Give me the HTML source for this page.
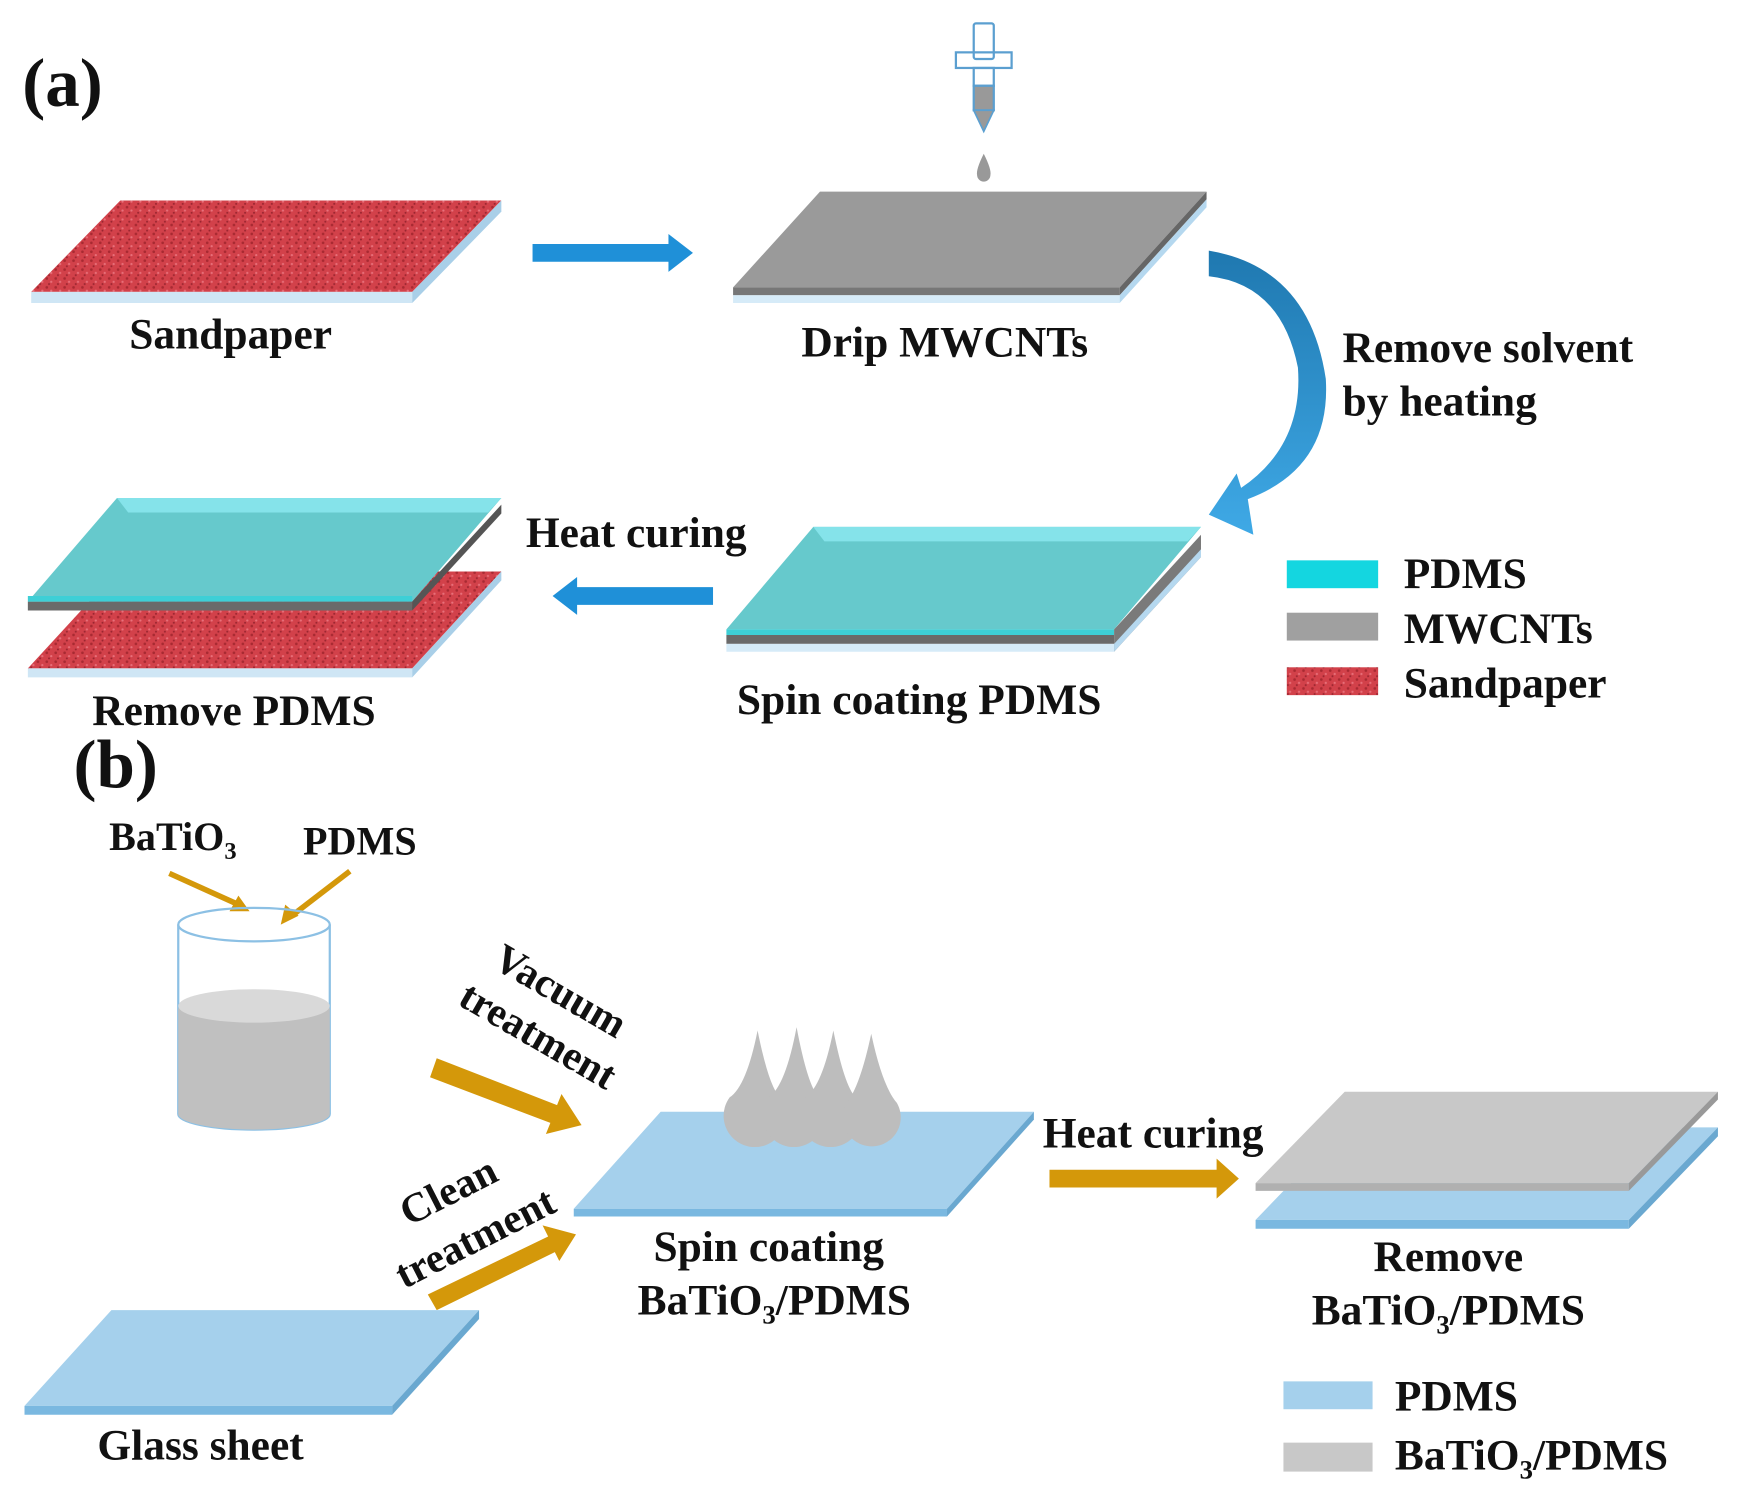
<!DOCTYPE html>
<html><head><meta charset="utf-8"><style>
html,body{margin:0;padding:0;background:#fff;}
svg{display:block;}
text{font-family:"Liberation Serif",serif;font-weight:bold;fill:#111;}
</style></head><body>
<svg width="1738" height="1495" viewBox="0 0 1560 1342" preserveAspectRatio="none" xmlns="http://www.w3.org/2000/svg">
<defs>
<pattern id="sand" width="8" height="8" patternUnits="userSpaceOnUse">
<rect width="8" height="8" fill="#d2414a"/>
<circle cx="2" cy="2" r="1.2" fill="#a82a32"/><circle cx="6" cy="5" r="1" fill="#e8707a"/><circle cx="4" cy="7" r="0.9" fill="#9a2530"/>
</pattern>
<linearGradient id="cg" x1="0" y1="0" x2="0" y2="1"><stop offset="0" stop-color="#1f78b0"/><stop offset="1" stop-color="#3fa9e6"/></linearGradient>
</defs>

<text x="20" y="95" font-size="62">(a)</text>

<!-- Sandpaper -->
<polygon points="28,262 370,262 450,180 108,180" fill="url(#sand)"/>
<polygon points="28,262 370,262 370,272 28,272" fill="#cfe6f5"/>
<polygon points="370,262 450,180 450,190 370,272" fill="#a9cfe8"/>
<text x="207" y="313" font-size="39" text-anchor="middle">Sandpaper</text>

<!-- arrow 1 -->
<polygon points="478,219 600,219 600,210 622,227 600,244 600,235 478,235" fill="#1f90d8"/>

<!-- dropper -->
<g fill="none" stroke="#5b9fd0" stroke-width="2">
<rect x="874" y="21" width="18" height="32" rx="2"/>
<rect x="858" y="47" width="50" height="14"/>
<rect x="874" y="61" width="18" height="16"/>
</g>
<rect x="874" y="77" width="18" height="22" fill="#999" stroke="#5b9fd0" stroke-width="2"/>
<polygon points="874,99 892,99 883,118" fill="#999" stroke="#5b9fd0" stroke-width="1.5"/>
<path d="M883,138 Q876,152 877,157 A6,6 0 0 0 889,157 Q890,152 883,138Z" fill="#999"/>

<!-- gray slab -->
<polygon points="658,258 1005,258 1083,172 736,172" fill="#9a9a9a"/>
<polygon points="658,258 1005,258 1005,265 658,265" fill="#777"/>
<polygon points="1005,258 1083,172 1083,179 1005,265" fill="#666"/>
<polygon points="658,265 1005,265 1005,272 658,272" fill="#d6ebf8"/>
<polygon points="1005,265 1083,179 1083,186 1005,272" fill="#b5d8ef"/>
<text x="848" y="320" font-size="39" text-anchor="middle">Drip MWCNTs</text>

<!-- curved arrow -->
<path d="M1085,225 Q1175,240 1190,340 Q1195,420 1120,448 L1125,480 L1085,462 L1110,425 L1114,438 Q1170,400 1165,330 Q1150,255 1085,248Z" fill="url(#cg)"/>
<text x="1205" y="325" font-size="39">Remove solvent</text>
<text x="1205" y="373" font-size="39">by heating</text>

<!-- spin coating PDMS -->
<polygon points="652,565 1000,565 1078,473 730,473" fill="#66c9cc"/>
<polygon points="730,473 1078,473 1066,486 740,486" fill="#85e3ea"/>
<polygon points="652,565 1000,565 1000,570 652,570" fill="#3ecfd6"/>
<polygon points="652,570 1000,570 1000,578 652,578" fill="#6a6a6a"/>
<polygon points="652,578 1000,578 1000,585 652,585" fill="#d6ebf8"/>
<polygon points="1000,565 1078,480 1078,500 1000,585" fill="#7a7a7a"/>
<polygon points="1000,578 1078,493 1078,500 1000,585" fill="#b5d8ef"/>
<text x="825" y="641" font-size="39" text-anchor="middle">Spin coating PDMS</text>

<!-- left arrow -->
<polygon points="640,527 518,527 518,518 496,535 518,552 518,543 640,543" fill="#1f90d8"/>
<text x="472" y="491" font-size="39">Heat curing</text>

<!-- remove PDMS -->
<polygon points="25,600 370,600 450,513 105,513" fill="url(#sand)"/>
<polygon points="25,600 370,600 370,608 25,608" fill="#cfe6f5"/>
<polygon points="370,600 450,513 450,521 370,608" fill="#a9cfe8"/>
<polygon points="25,540 370,540 450,447 105,447" fill="#66c9cc"/>
<polygon points="105,447 450,447 438,460 115,460" fill="#85e3ea"/>
<polygon points="25,540 370,540 370,548 25,548" fill="#6a6a6a"/>
<polygon points="370,540 450,453 450,461 370,548" fill="#555"/>
<polygon points="25,535 370,535 370,540 25,540" fill="#3ecfd6"/>
<text x="210" y="651" font-size="39" text-anchor="middle">Remove PDMS</text>

<!-- legend a -->
<rect x="1155" y="503" width="82" height="25" fill="#14d6e0"/>
<rect x="1155" y="550" width="82" height="25" fill="#a0a0a0"/>
<rect x="1155" y="599" width="82" height="25" fill="url(#sand)"/>
<text x="1260" y="528" font-size="39">PDMS</text>
<text x="1260" y="577" font-size="39">MWCNTs</text>
<text x="1260" y="626" font-size="39">Sandpaper</text>

<!-- (b) -->
<text x="66" y="707" font-size="62">(b)</text>
<text x="98" y="763" font-size="36">BaTiO<tspan font-size="22" dy="8">3</tspan></text>
<text x="272" y="767" font-size="36">PDMS</text>
<g stroke="#d4980a" stroke-width="5" fill="#d4980a">
<line x1="152" y1="784" x2="214" y2="812"/>
<line x1="314" y1="782" x2="262" y2="822"/>
</g>
<polygon points="224,818 206,818 214,804" fill="#d4980a"/>
<polygon points="252,830 256,812 268,822" fill="#d4980a"/>

<!-- beaker -->
<path d="M160,830 L160,1000 A68,14 0 0 0 296,1000 L296,830" fill="none" stroke="#8cc0e4" stroke-width="2"/>
<path d="M160,905 L160,1000 A68,14 0 0 0 296,1000 L296,905Z" fill="#c0c0c0"/>
<ellipse cx="228" cy="903" rx="68" ry="15" fill="#d9d9d9"/>
<ellipse cx="228" cy="830" rx="68" ry="15" fill="none" stroke="#8cc0e4" stroke-width="2"/>

<!-- vacuum -->
<text transform="translate(497,900) rotate(30)" font-size="37" text-anchor="middle">Vacuum</text>
<text transform="translate(477,940) rotate(30)" font-size="37" text-anchor="middle">treatment</text>
<polygon points="392,950 500,992 504,982 522,1010 490,1018 494,1008 386,967" fill="#d4980a"/>

<!-- clean -->
<text transform="translate(408,1080) rotate(-27)" font-size="37" text-anchor="middle">Clean</text>
<text transform="translate(432,1122) rotate(-27)" font-size="37" text-anchor="middle">treatment</text>
<polygon points="384,1162 492,1110 487,1100 517,1108 502,1132 498,1124 392,1176" fill="#d4980a"/>

<!-- spin slab b -->
<polygon points="515,1085 850,1085 928,998 593,998" fill="#a5d0ec"/>
<polygon points="515,1085 850,1085 850,1092 515,1092" fill="#7ab8e0"/>
<polygon points="850,1085 928,998 928,1005 850,1092" fill="#6aa8d0"/>
<g fill="#bdbdbd">
<path d="M680,925 Q690,975 700,985 A28,28 0 1 1 655,985 Q670,975 680,925Z"/>
<path d="M715,922 Q725,975 735,985 A28,28 0 1 1 690,985 Q705,975 715,922Z"/>
<path d="M748,925 Q758,975 768,985 A28,28 0 1 1 723,985 Q738,975 748,925Z"/>
<path d="M782,928 Q792,975 805,990 A26,26 0 1 1 760,990 Q772,975 782,928Z"/>
</g>
<text x="690" y="1132" font-size="39" text-anchor="middle">Spin coating</text>
<text x="695" y="1180" font-size="39" text-anchor="middle">BaTiO<tspan font-size="24" dy="8">3</tspan><tspan dy="-8">/PDMS</tspan></text>

<!-- heat curing b -->
<text x="1035" y="1030" font-size="39" text-anchor="middle">Heat curing</text>
<polygon points="942,1050 1092,1050 1092,1040 1112,1058 1092,1076 1092,1066 942,1066" fill="#d4980a"/>

<!-- remove slab b -->
<polygon points="1127,1095 1462,1095 1542,1012 1207,1012" fill="#a5d0ec"/>
<polygon points="1127,1095 1462,1095 1462,1103 1127,1103" fill="#7ab8e0"/>
<polygon points="1462,1095 1542,1012 1542,1020 1462,1103" fill="#6aa8d0"/>
<polygon points="1127,1062 1462,1062 1542,980 1207,980" fill="#c8c8c8"/>
<polygon points="1127,1062 1462,1062 1462,1069 1127,1069" fill="#b0b0b0"/>
<polygon points="1462,1062 1542,980 1542,987 1462,1069" fill="#999"/>
<text x="1300" y="1141" font-size="39" text-anchor="middle">Remove</text>
<text x="1300" y="1189" font-size="39" text-anchor="middle">BaTiO<tspan font-size="24" dy="8">3</tspan><tspan dy="-8">/PDMS</tspan></text>

<!-- glass -->
<polygon points="22,1262 352,1262 430,1176 100,1176" fill="#a5d0ec"/>
<polygon points="22,1262 352,1262 352,1270 22,1270" fill="#7ab8e0"/>
<polygon points="352,1262 430,1176 430,1184 352,1270" fill="#6aa8d0"/>
<text x="180" y="1310" font-size="39" text-anchor="middle">Glass sheet</text>

<!-- legend b -->
<rect x="1152" y="1240" width="80" height="25" fill="#a5d0ec"/>
<rect x="1152" y="1295" width="80" height="26" fill="#c8c8c8"/>
<text x="1252" y="1266" font-size="39">PDMS</text>
<text x="1252" y="1319" font-size="39">BaTiO<tspan font-size="24" dy="8">3</tspan><tspan dy="-8">/PDMS</tspan></text>
</svg>
</body></html>
